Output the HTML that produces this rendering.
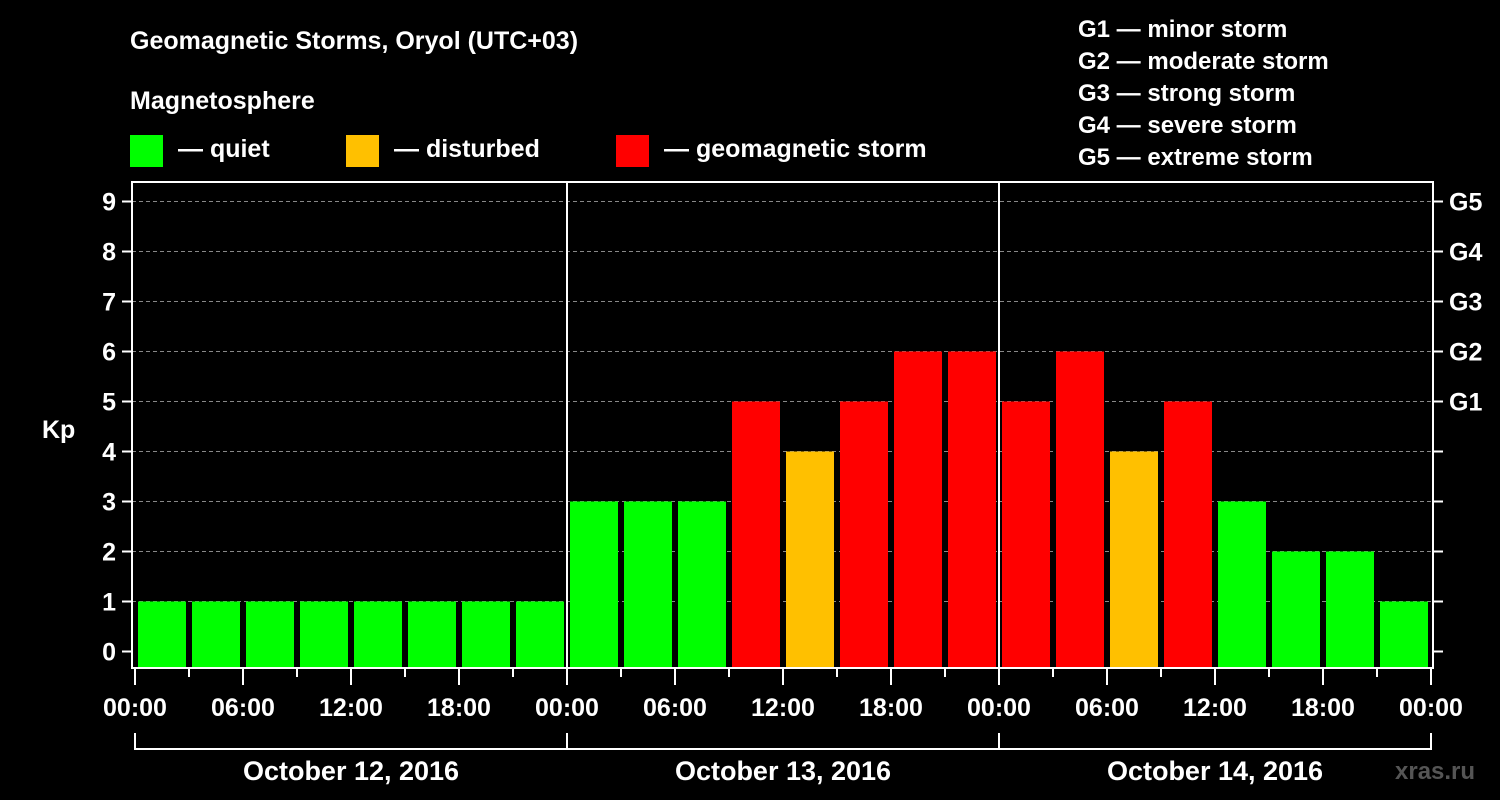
<!DOCTYPE html>
<html><head><meta charset="utf-8"><style>
body{margin:0;background:#000;}
svg{display:block;font-family:"Liberation Sans",Arial,sans-serif;font-weight:bold;}
</style></head><body>
<svg id="chart" width="1500" height="800" viewBox="0 0 1500 800">
<rect width="1500" height="800" fill="#000"/>
<text x="130" y="49" fill="#fff" font-size="25">Geomagnetic Storms, Oryol (UTC+03)</text>
<text x="130" y="109" fill="#fff" font-size="25">Magnetosphere</text>
<g>
<rect x="130" y="135" width="33" height="32" fill="#00ff00"/>
<text x="178" y="157" fill="#fff" font-size="25">— quiet</text>
<rect x="346" y="135" width="33" height="32" fill="#ffc000"/>
<text x="394" y="157" fill="#fff" font-size="25">— disturbed</text>
<rect x="616" y="135" width="33" height="32" fill="#ff0000"/>
<text x="664" y="157" fill="#fff" font-size="25">— geomagnetic storm</text>
</g>
<g fill="#fff" font-size="24">
<text x="1078" y="37">G1 — minor storm</text>
<text x="1078" y="69">G2 — moderate storm</text>
<text x="1078" y="101">G3 — strong storm</text>
<text x="1078" y="133">G4 — severe storm</text>
<text x="1078" y="165">G5 — extreme storm</text>
</g>
<text x="42" y="438" fill="#fff" font-size="25">Kp</text>
<text x="1395" y="779" fill="#555" font-size="24">xras.ru</text>
<g id="grid"></g><g id="bars"></g><g id="axes"></g>
</svg>
<script>
const kpValues=[1,1,1,1,1,1,1,1, 3,3,3,5,4,5,6,6, 5,6,4,5,3,2,2,1];
const yTicks=[0,1,2,3,4,5,6,7,8,9];
const gLabels=["G1","G2","G3","G4","G5"];
const gLevels=[5,6,7,8,9];
const xLabels=["00:00","06:00","12:00","18:00","00:00","06:00","12:00","18:00","00:00","06:00","12:00","18:00","00:00"];
const dayLabels=["October 12, 2016","October 13, 2016","October 14, 2016"];
const NS="http://www.w3.org/2000/svg";
const L=132,R=1433,T=182,B=668,X0=135,DAYW=432;
const y=k=>651.5-50*k;
const xh=h=>X0+h*DAYW/24;
function mk(tag,attrs,parent,txt){const e=document.createElementNS(NS,tag);for(const k in attrs)e.setAttribute(k,attrs[k]);if(txt!==undefined)e.textContent=txt;parent.appendChild(e);return e;}
const grid=document.getElementById('grid'),bars=document.getElementById('bars'),axes=document.getElementById('axes');
yTicks.forEach(k=>{
 if(k>0){const g=mk('line',{x1:L,x2:R,y1:y(k),y2:y(k),stroke:'#888','stroke-dasharray':'4,3','stroke-width':1},grid);
 
 }
 const t=mk('line',{x1:122,x2:L,y1:y(k),y2:y(k),stroke:'#fff','stroke-width':2},axes);
 
 
 const t2=mk('line',{x1:R,x2:1443,y1:y(k),y2:y(k),stroke:'#fff','stroke-width':2},axes);
 
 
 const l=mk('text',{x:116,y:y(k)+9,fill:'#fff','font-size':25,'text-anchor':'end'},axes,String(k));
 
 
});
gLevels.forEach((k,i)=>{
 const l=mk('text',{x:1449,y:y(k)+9,fill:'#fff','font-size':25},axes,gLabels[i]);
 
 
});
kpValues.forEach((v,i)=>{
 const c=v>=5?'#ff0000':(v>=4?'#ffc000':'#00ff00');
 const b=mk('rect',{x:xh(i*3)+3,y:y(v),width:48,height:667-y(v),fill:c},bars);
 
 
});
mk('rect',{x:L,y:T,width:R-L,height:B-T,fill:'none',stroke:'#fff','stroke-width':2},axes);
[1,2].forEach(d=>{const s=mk('line',{x1:X0+d*DAYW,x2:X0+d*DAYW,y1:T,y2:B,stroke:'#fff','stroke-width':2},axes);
 
 });
for(let h=0;h<=72;h+=3){const major=h%6===0;
 const t=mk('line',{x1:xh(h),x2:xh(h),y1:B,y2:major?685:677,stroke:'#fff','stroke-width':2},axes);
 
 }
xLabels.forEach((s,i)=>{
 const l=mk('text',{x:xh(i*6),y:716,fill:'#fff','font-size':25,'text-anchor':'middle'},axes,s);
 
 
});
mk('path',{d:`M${X0} 733V749H${X0+3*DAYW}V733`,fill:'none',stroke:'#fff','stroke-width':2},axes);
[1,2].forEach(d=>mk('line',{x1:X0+d*DAYW,x2:X0+d*DAYW,y1:733,y2:749,stroke:'#fff','stroke-width':2},axes));
dayLabels.forEach((s,i)=>{
 const l=mk('text',{x:X0+DAYW*(i+0.5),y:780,fill:'#fff','font-size':27,'text-anchor':'middle'},axes,s);
 
 
});
</script>
</body></html>
